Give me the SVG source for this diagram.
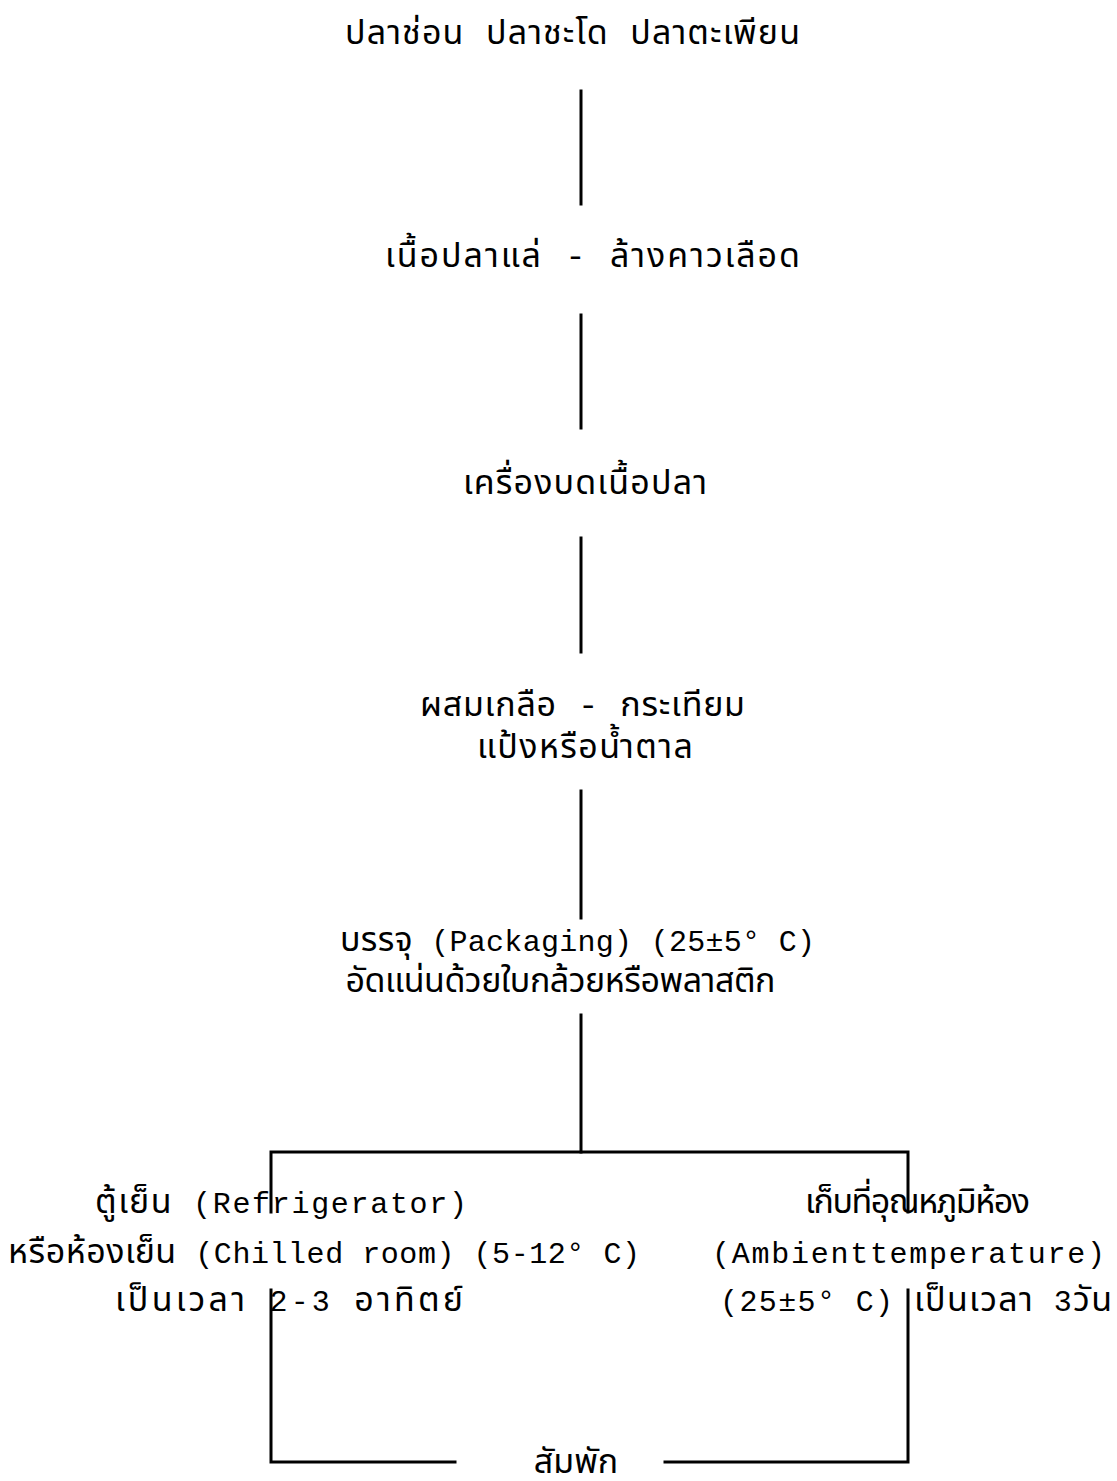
<svg xmlns="http://www.w3.org/2000/svg" width="1117" height="1481" viewBox="0 0 1117 1481">
<style>
  text { font-family: "Liberation Mono", "Noto Sans Thai", "Noto Sans", "DejaVu Sans", "Noto Sans CJK SC", monospace; font-size: 30px; fill: #000; }
  .th { font-size: 34px; }
  .ln { stroke: #000; stroke-width: 3; fill: none; stroke-linecap: square; }
</style>
<rect width="1117" height="1481" fill="#fff"/>
<g id="connectors">
  <line class="ln" x1="581" y1="91" x2="581" y2="204"/>
  <line class="ln" x1="581" y1="315" x2="581" y2="428"/>
  <line class="ln" x1="581" y1="538" x2="581" y2="652"/>
  <line class="ln" x1="581" y1="791" x2="581" y2="918"/>
  <line class="ln" x1="581" y1="1015" x2="581" y2="1152"/>
  <polyline class="ln" points="271,1212 271,1152 908,1152 908,1212"/>
  <polyline class="ln" points="271,1290 271,1462 455,1462"/>
  <polyline class="ln" points="908,1290 908,1462 665,1462"/>
</g>
<g id="n1"><text class="th" x="345" y="44" textLength="455" lengthAdjust="spacing">ปลาช่อน ปลาชะโด ปลาตะเพียน</text></g>
<g id="n2"><text class="th" x="385" y="267" textLength="415" lengthAdjust="spacing">เนื้อปลาแล่ - ล้างคาวเลือด</text></g>
<g id="n3"><text class="th" x="463" y="494" textLength="244" lengthAdjust="spacing">เครื่องบดเนื้อปลา</text></g>
<g id="n4">
  <text class="th" x="420" y="716" textLength="325" lengthAdjust="spacing">ผสมเกลือ - กระเทียม</text>
  <text class="th" x="477" y="758" textLength="216" lengthAdjust="spacing">แป้งหรือน้ำตาล</text>
</g>
<g id="n5">
  <text x="340" y="951" textLength="475" lengthAdjust="spacing"><tspan class="th">บรรจุ</tspan> (Packaging) (25±5° C)</text>
  <text class="th" x="345" y="992" textLength="430" lengthAdjust="spacing">อัดแน่นด้วยใบกล้วยหรือพลาสติก</text>
</g>
<g id="n6">
  <text x="95" y="1213" textLength="372" lengthAdjust="spacing"><tspan class="th">ตู้เย็น</tspan> (Refrigerator)</text>
  <text x="8" y="1263" textLength="632" lengthAdjust="spacing"><tspan class="th">หรือห้องเย็น</tspan> (Chilled room) (5-12° C)</text>
  <text x="115" y="1311" textLength="348" lengthAdjust="spacing"><tspan class="th">เป็นเวลา</tspan> 2-3 <tspan class="th">อาทิตย์</tspan></text>
</g>
<g id="n7">
  <text class="th" x="805" y="1213" textLength="225" lengthAdjust="spacing">เก็บที่อุณหภูมิห้อง</text>
  <text x="712" y="1263" textLength="393" lengthAdjust="spacing">(Ambienttemperature)</text>
  <text x="720" y="1311" textLength="392" lengthAdjust="spacing">(25±5° C)  <tspan class="th">เป็นเวลา</tspan> 3<tspan class="th">วัน</tspan></text>
</g>
<g id="n8"><text class="th" x="576" y="1473" text-anchor="middle">สัมพัก</text></g>
</svg>
